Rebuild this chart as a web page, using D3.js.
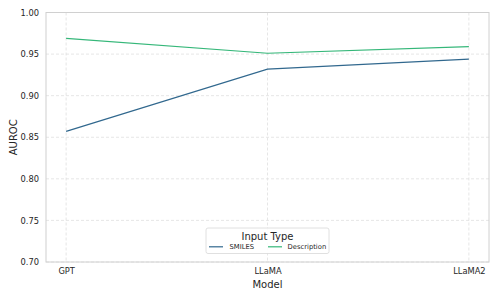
<!DOCTYPE html>
<html><head><meta charset="utf-8">
<script src="https://cdn.jsdelivr.net/npm/d3@7"></script>
<style>body{margin:0;background:#fff;} text{font-family:"DejaVu Sans",sans-serif;}</style>
</head><body><svg id="c" width="498" height="299"></svg>
<script>
const models = ["GPT", "LLaMA", "LLaMA2"];
const smiles = [0.857, 0.932, 0.944];
const description = [0.969, 0.951, 0.959];
const yTicks = [0.70, 0.75, 0.80, 0.85, 0.90, 0.95, 1.00];
const seriesNames = ["SMILES", "Description"];
const colors = ["#31688e", "#35b779"];

const svg = d3.select("#c");
const L = 46, R = 489, T = 12.5, B = 262;
const x = d3.scaleLinear().domain([-0.1, 2.1]).range([L, R]);
const y = d3.scaleLinear().domain([0.70, 1.00]).range([B, T]);

// grid
const g = svg.append("g");
g.selectAll(".gy").data(yTicks).enter().append("line")
  .attr("x1", L).attr("x2", R).attr("y1", d => y(d)).attr("y2", d => y(d))
  .attr("stroke", "#e0e0e0").attr("stroke-width", 0.8).attr("stroke-dasharray", "3,2");
g.selectAll(".gx").data(models).enter().append("line")
  .attr("x1", (d, i) => x(i)).attr("x2", (d, i) => x(i)).attr("y1", T).attr("y2", B)
  .attr("stroke", "#e0e0e0").attr("stroke-width", 0.8).attr("stroke-dasharray", "3,2");

// frame
svg.append("rect").attr("x", L).attr("y", T).attr("width", R - L).attr("height", B - T)
  .attr("fill", "none").attr("stroke", "#d0d0d0").attr("stroke-width", 1);

// axes
const yAxis = d3.axisLeft(y).tickValues(yTicks).tickFormat(d3.format(".2f")).tickSize(0).tickPadding(7);
const ya = svg.append("g").attr("transform", `translate(${L},0)`).call(yAxis);
ya.select(".domain").remove();
ya.selectAll("text").attr("font-size", 8.3).attr("fill", "#262626").attr("font-family", "DejaVu Sans");

const xAxis = d3.axisBottom(x).tickValues([0, 1, 2]).tickFormat(i => models[i]).tickSize(0).tickPadding(6);
const xa = svg.append("g").attr("transform", `translate(0,${B})`).call(xAxis);
xa.select(".domain").remove();
xa.selectAll("text").attr("font-size", 8.3).attr("fill", "#262626").attr("font-family", "DejaVu Sans");

svg.append("text").attr("x", (L + R) / 2).attr("y", 288).attr("text-anchor", "middle")
  .attr("font-size", 10).attr("fill", "#262626").text("Model");
svg.append("text").attr("transform", `translate(16.5,${(T + B) / 2}) rotate(-90)`).attr("text-anchor", "middle")
  .attr("font-size", 10).attr("fill", "#262626").text("AUROC");

// lines
const line = d3.line().x((d, i) => x(i)).y(d => y(d));
[smiles, description].forEach((s, k) => {
  svg.append("path").attr("d", line(s)).attr("fill", "none").attr("stroke", colors[k]).attr("stroke-width", 1.2);
});

// legend
const lx = 206, ly = 228, lw = 123, lh = 25.5;
svg.append("rect").attr("x", lx).attr("y", ly).attr("width", lw).attr("height", lh)
  .attr("fill", "#fff").attr("fill-opacity", 0.85).attr("stroke", "#d8d8d8").attr("stroke-width", 0.8).attr("rx", 2);
svg.append("text").attr("x", lx + lw / 2).attr("y", ly + 11.5).attr("text-anchor", "middle")
  .attr("font-size", 10).attr("fill", "#262626").text("Input Type");
const items = [{x0: 209, tx: 229.5}, {x0: 268, tx: 287.5}];
seriesNames.forEach((n, k) => {
  svg.append("line").attr("x1", items[k].x0).attr("x2", items[k].x0 + 14).attr("y1", ly + 18.8).attr("y2", ly + 18.8)
    .attr("stroke", colors[k]).attr("stroke-width", 1.2);
  svg.append("text").attr("x", items[k].tx).attr("y", ly + 21.3).attr("font-size", 6.8).attr("fill", "#262626").text(n);
});
</script></body></html>
